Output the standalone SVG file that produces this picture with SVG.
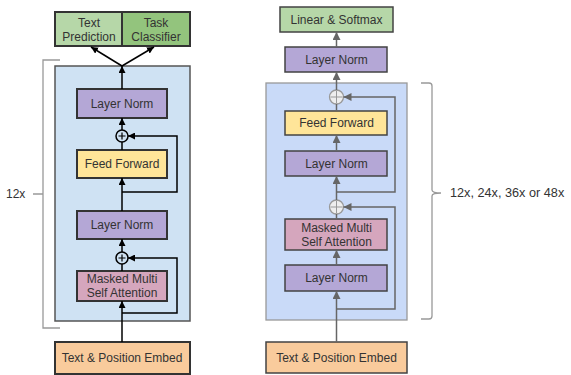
<svg xmlns="http://www.w3.org/2000/svg" width="571" height="375" viewBox="0 0 571 375">
  <defs>
    <marker id="ahB" viewBox="0 0 10 10" refX="10" refY="5" markerWidth="7" markerHeight="7" markerUnits="userSpaceOnUse" orient="auto">
      <path d="M0,0 L10,5 L0,10 Z" fill="#000"/>
    </marker>
    <marker id="ahG" viewBox="0 0 10 10" refX="10" refY="5" markerWidth="8" markerHeight="8" markerUnits="userSpaceOnUse" orient="auto">
      <path d="M0,0 L10,5 L0,10 Z" fill="#666"/>
    </marker>
  </defs>
  <style>
    text { font-family: "Liberation Sans", Arial, sans-serif; font-size: 12px; fill: #333; text-anchor: middle; }
    .lbl { text-anchor: start; }
    .big { font-size: 12.7px; }
    .bL { stroke: #333; stroke-width: 2; }
    .bR { stroke: #434343; stroke-width: 1.5; }
    .green1 { fill: #b6d7a8; }
    .green2 { fill: #93c47d; }
    .purple { fill: #b4a7d6; }
    .yellow { fill: #ffe599; }
    .pink { fill: #d5a6bd; }
    .orange { fill: #f9cb9c; }
    .cL { fill: none; stroke: #000; stroke-width: 1.5; }
    .cR { fill: none; stroke: #666; stroke-width: 1.5; }
    .brace { fill: none; stroke: #999; stroke-width: 1.3; }
  </style>

  <!-- Left model: stack container -->
  <g id="left-block">
    <rect x="55" y="66" width="135" height="255" fill="#cfe2f3" stroke="#555" stroke-width="1.5"/>
  </g>
  <g id="left-heads">
    <rect x="55" y="12" width="67" height="34" class="green1 bL"/>
    <rect x="122" y="12" width="68" height="34" class="green2 bL"/>
    <text x="89" y="27">Text</text>
    <text x="89" y="41">Prediction</text>
    <text x="156" y="27">Task</text>
    <text x="156" y="41">Classifier</text>
  </g>
  <g id="left-ln-top">
    <rect x="77" y="89" width="90" height="29" class="purple bL"/>
    <text x="122" y="108">Layer Norm</text>
  </g>
  <g id="left-add-top">
    <circle cx="122" cy="136" r="6" fill="none" stroke="#000" stroke-width="1.5"/>
    <path d="M118.5,136 H125.5 M122,132.5 V139.5" stroke="#000" stroke-width="1.2"/>
  </g>
  <g id="left-ff">
    <rect x="77" y="150" width="90" height="28" class="yellow bL"/>
    <text x="122" y="168">Feed Forward</text>
  </g>
  <g id="left-ln-mid">
    <rect x="77" y="211" width="90" height="28" class="purple bL"/>
    <text x="122" y="229">Layer Norm</text>
  </g>
  <g id="left-add-bot">
    <circle cx="122" cy="258" r="6" fill="none" stroke="#000" stroke-width="1.5"/>
    <path d="M118.5,258 H125.5 M122,254.5 V261.5" stroke="#000" stroke-width="1.2"/>
  </g>
  <g id="left-attn">
    <rect x="77" y="271" width="90" height="30" class="pink bL"/>
    <text x="122" y="283">Masked Multi</text>
    <text x="122" y="297">Self Attention</text>
  </g>
  <g id="left-embed">
    <rect x="55" y="342" width="135" height="32" class="orange bL"/>
    <text x="122" y="362">Text &amp; Position Embed</text>
  </g>
  <g id="left-repeat">
    <path class="brace" d="M60,60 H43 V328 H60 M33,194 H43"/>
    <text class="lbl" x="6" y="198">12x</text>
  </g>

  <!-- Right model: stack container -->
  <g id="right-block">
    <rect x="266" y="83" width="141" height="237" fill="#c9daf8" stroke="#999" stroke-width="1.3"/>
  </g>
  <g id="right-head">
    <rect x="280" y="7" width="113" height="25" class="green1 bR"/>
    <text x="336.5" y="24">Linear &amp; Softmax</text>
  </g>
  <g id="right-ln-final">
    <rect x="285" y="47" width="102" height="25" class="purple bR"/>
    <text x="336.5" y="64">Layer Norm</text>
  </g>
  <g id="right-add-top">
    <circle cx="336.5" cy="97" r="7" fill="#eee" stroke="#999" stroke-width="1.3"/>
    <path d="M330.5,97 H342.5 M336.5,91 V103" stroke="#999" stroke-width="1"/>
  </g>
  <g id="right-ff">
    <rect x="285" y="111" width="102" height="24" class="yellow bR"/>
    <text x="336.5" y="127">Feed Forward</text>
  </g>
  <g id="right-ln-mid">
    <rect x="285" y="151" width="102" height="25" class="purple bR"/>
    <text x="336.5" y="168">Layer Norm</text>
  </g>
  <g id="right-add-bot">
    <circle cx="336.5" cy="207" r="7" fill="#eee" stroke="#999" stroke-width="1.3"/>
    <path d="M330.5,207 H342.5 M336.5,201 V213" stroke="#999" stroke-width="1"/>
  </g>
  <g id="right-attn">
    <rect x="285" y="219" width="102" height="31" class="pink bR"/>
    <text x="336.5" y="232">Masked Multi</text>
    <text x="336.5" y="246">Self Attention</text>
  </g>
  <g id="right-ln-in">
    <rect x="285" y="265" width="102" height="26" class="purple bR"/>
    <text x="336.5" y="282">Layer Norm</text>
  </g>
  <g id="right-embed">
    <rect x="266" y="342" width="141" height="31" class="orange bR"/>
    <text x="336.5" y="362">Text &amp; Position Embed</text>
  </g>
  <g id="right-repeat">
    <path class="brace" d="M421,83 H429 Q432,83 432,86 V190 Q432,193 441,193 Q432,193 432,196 V316 Q432,319 429,319 H421"/>
    <text class="lbl big" x="450" y="197">12x, 24x, 36x or 48x</text>
  </g>

  <!-- Connectors -->
  <g id="connectors">
    <!-- left -->
    <path class="cL" d="M122,342 V301" marker-end="url(#ahB)"/>
    <path class="cL" d="M122,313 H177 V258 H128" marker-end="url(#ahB)"/>
    <path class="cL" d="M122,271 V264"/>
    <path class="cL" d="M122,252 V239" marker-end="url(#ahB)"/>
    <path class="cL" d="M122,211 V178" marker-end="url(#ahB)"/>
    <path class="cL" d="M122,192 H177 V136 H128" marker-end="url(#ahB)"/>
    <path class="cL" d="M122,150 V142"/>
    <path class="cL" d="M122,130 V118" marker-end="url(#ahB)"/>
    <path class="cL" d="M122,89 V66" marker-end="url(#ahB)"/>
    <path class="cL" d="M122,66 L91,47" marker-end="url(#ahB)"/>
    <path class="cL" d="M122,66 L154,47" marker-end="url(#ahB)"/>
    <!-- right -->
    <path class="cR" d="M336.5,342 V291" marker-end="url(#ahG)"/>
    <path class="cR" d="M336.5,309 H395 V207 H343.5" marker-end="url(#ahG)"/>
    <path class="cR" d="M336.5,265 V250" marker-end="url(#ahG)"/>
    <path class="cR" d="M336.5,219 V214"/>
    <path class="cR" d="M336.5,200 V176" marker-end="url(#ahG)"/>
    <path class="cR" d="M336.5,192 H395 V97 H343.5" marker-end="url(#ahG)"/>
    <path class="cR" d="M336.5,151 V135" marker-end="url(#ahG)"/>
    <path class="cR" d="M336.5,111 V104"/>
    <path class="cR" d="M336.5,90 V72" marker-end="url(#ahG)"/>
    <path class="cR" d="M336.5,47 V32" marker-end="url(#ahG)"/>
  </g>
</svg>
